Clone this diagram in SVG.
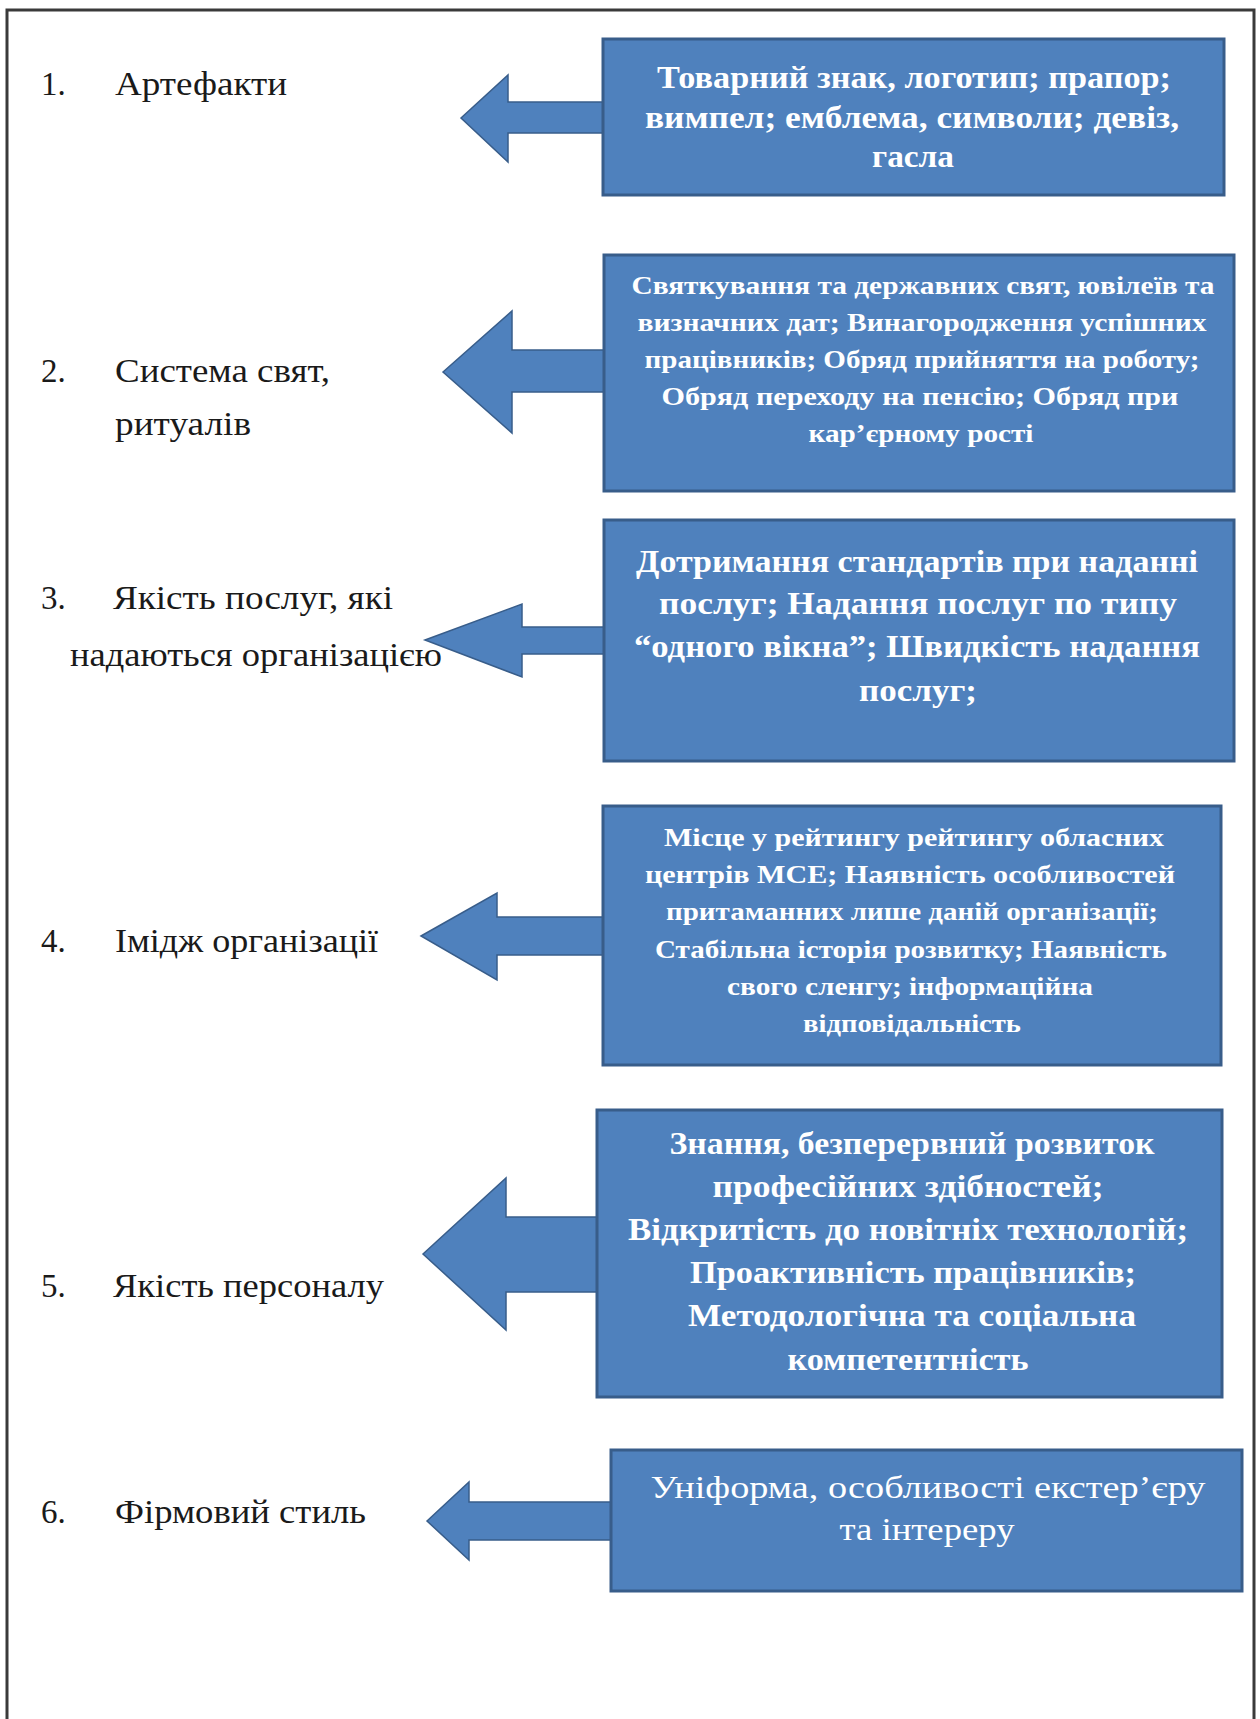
<svg xmlns="http://www.w3.org/2000/svg" width="1260" height="1719" viewBox="0 0 1260 1719">
<style>
.frame{fill:none;stroke:#3a3a3a;stroke-width:3}
.box{fill:#4f81bd;stroke:#385d8a;stroke-width:3}
.arrow{fill:#4f81bd;stroke:#385d8a;stroke-width:1.5;stroke-linejoin:miter}
.lbl{font-family:"Liberation Serif","Times New Roman",serif;font-size:33px;fill:#1a1a1a}
.bt{font-family:"Liberation Serif","Times New Roman",serif;fill:#ffffff;text-anchor:middle;font-weight:bold}
.s1{font-size:32px}
.s2{font-size:25px}
.s3{font-size:32px}
.s4{font-size:26px}
.s5{font-size:32px}
.s6{font-size:32px;font-weight:normal}
</style>
<rect x="0" y="0" width="1260" height="1719" fill="#ffffff"/>
<path class="frame" d="M7,1719 V10 H1254 V1719"/>

<g id="connectors">
<polygon class="arrow" points="461,118 508,75 508,102 604,102 604,133 508,133 508,162"/>
<polygon class="arrow" points="443,372 512,311 512,350 605,350 605,392 512,392 512,433"/>
<polygon class="arrow" points="425,640 522,604 522,627 605,627 605,654 522,654 522,677"/>
<polygon class="arrow" points="421,936 497,893 497,917 604,917 604,955 497,955 497,980"/>
<polygon class="arrow" points="423,1254 506,1178 506,1217 598,1217 598,1292 506,1292 506,1330"/>
<polygon class="arrow" points="427,1521 469,1482 469,1502 612,1502 612,1540 469,1540 469,1560"/>
</g>

<g id="label1">
<text class="lbl" x="41" y="95">1.</text>
<text class="lbl" x="115" y="95" textLength="172" lengthAdjust="spacingAndGlyphs">Артефакти</text>
</g>
<g id="label2">
<text class="lbl" x="41" y="382">2.</text>
<text class="lbl" x="115" y="382" textLength="215" lengthAdjust="spacingAndGlyphs">Система свят,</text>
<text class="lbl" x="115" y="435" textLength="136" lengthAdjust="spacingAndGlyphs">ритуалів</text>
</g>
<g id="label3">
<text class="lbl" x="41" y="609">3.</text>
<text class="lbl" x="113" y="609" textLength="280" lengthAdjust="spacingAndGlyphs">Якість послуг, які</text>
<text class="lbl" x="70" y="666" textLength="372" lengthAdjust="spacingAndGlyphs">надаються організацією</text>
</g>
<g id="label4">
<text class="lbl" x="41" y="952">4.</text>
<text class="lbl" x="115" y="952" textLength="263" lengthAdjust="spacingAndGlyphs">Імідж організації</text>
</g>
<g id="label5">
<text class="lbl" x="41" y="1297">5.</text>
<text class="lbl" x="113" y="1297" textLength="271" lengthAdjust="spacingAndGlyphs">Якість персоналу</text>
</g>
<g id="label6">
<text class="lbl" x="41" y="1523">6.</text>
<text class="lbl" x="115" y="1523" textLength="251" lengthAdjust="spacingAndGlyphs">Фірмовий стиль</text>
</g>

<g id="box1">
<rect class="box" x="603" y="39" width="621" height="156"/>
<text class="bt s1" x="914" y="88" textLength="514" lengthAdjust="spacingAndGlyphs">Товарний знак, логотип; прапор;</text>
<text class="bt s1" x="912" y="128" textLength="534" lengthAdjust="spacingAndGlyphs">вимпел; емблема, символи; девіз,</text>
<text class="bt s1" x="913" y="167" textLength="82" lengthAdjust="spacingAndGlyphs">гасла</text>
</g>
<g id="box2">
<rect class="box" x="604" y="255" width="630" height="236"/>
<text class="bt s2" x="923" y="294" textLength="583" lengthAdjust="spacingAndGlyphs">Святкування та державних свят, ювілеїв та</text>
<text class="bt s2" x="922" y="331" textLength="569" lengthAdjust="spacingAndGlyphs">визначних дат; Винагородження успішних</text>
<text class="bt s2" x="922" y="368" textLength="555" lengthAdjust="spacingAndGlyphs">працівників; Обряд прийняття на роботу;</text>
<text class="bt s2" x="920" y="405" textLength="517" lengthAdjust="spacingAndGlyphs">Обряд переходу на пенсію; Обряд при</text>
<text class="bt s2" x="921" y="442" textLength="225" lengthAdjust="spacingAndGlyphs">кар’єрному рості</text>
</g>
<g id="box3">
<rect class="box" x="604" y="520" width="630" height="241"/>
<text class="bt s3" x="917" y="572" textLength="562" lengthAdjust="spacingAndGlyphs">Дотримання стандартів при наданні</text>
<text class="bt s3" x="918" y="614" textLength="518" lengthAdjust="spacingAndGlyphs">послуг;  Надання послуг по типу</text>
<text class="bt s3" x="917" y="657" textLength="566" lengthAdjust="spacingAndGlyphs">“одного вікна”;  Швидкість надання</text>
<text class="bt s3" x="918" y="701" textLength="118" lengthAdjust="spacingAndGlyphs">послуг;</text>
</g>
<g id="box4">
<rect class="box" x="603" y="806" width="618" height="259"/>
<text class="bt s4" x="914" y="846" textLength="500" lengthAdjust="spacingAndGlyphs">Місце у рейтингу  рейтингу обласних</text>
<text class="bt s4" x="910" y="883" textLength="530" lengthAdjust="spacingAndGlyphs">центрів МСЕ;  Наявність особливостей</text>
<text class="bt s4" x="912" y="920" textLength="492" lengthAdjust="spacingAndGlyphs">притаманних  лише даній організації;</text>
<text class="bt s4" x="911" y="958" textLength="512" lengthAdjust="spacingAndGlyphs">Стабільна історія розвитку; Наявність</text>
<text class="bt s4" x="910" y="995" textLength="366" lengthAdjust="spacingAndGlyphs">свого сленгу; інформаційна</text>
<text class="bt s4" x="912" y="1032" textLength="218" lengthAdjust="spacingAndGlyphs">відповідальність</text>
</g>
<g id="box5">
<rect class="box" x="597" y="1110" width="625" height="287"/>
<text class="bt s5" x="912" y="1154" textLength="485" lengthAdjust="spacingAndGlyphs">Знання, безперервний розвиток</text>
<text class="bt s5" x="908" y="1197" textLength="391" lengthAdjust="spacingAndGlyphs">професійних  здібностей;</text>
<text class="bt s5" x="908" y="1240" textLength="560" lengthAdjust="spacingAndGlyphs">Відкритість до новітніх технологій;</text>
<text class="bt s5" x="913" y="1283" textLength="446" lengthAdjust="spacingAndGlyphs">Проактивність працівників;</text>
<text class="bt s5" x="912" y="1326" textLength="448" lengthAdjust="spacingAndGlyphs">Методологічна та  соціальна</text>
<text class="bt s5" x="908" y="1370" textLength="241" lengthAdjust="spacingAndGlyphs">компетентність</text>
</g>
<g id="box6">
<rect class="box" x="611" y="1450" width="631" height="141"/>
<text class="bt s6" x="928" y="1498" textLength="555" lengthAdjust="spacingAndGlyphs">Уніформа,  особливості екстер’єру</text>
<text class="bt s6" x="927" y="1540" textLength="175" lengthAdjust="spacingAndGlyphs">та інтереру</text>
</g>
</svg>
